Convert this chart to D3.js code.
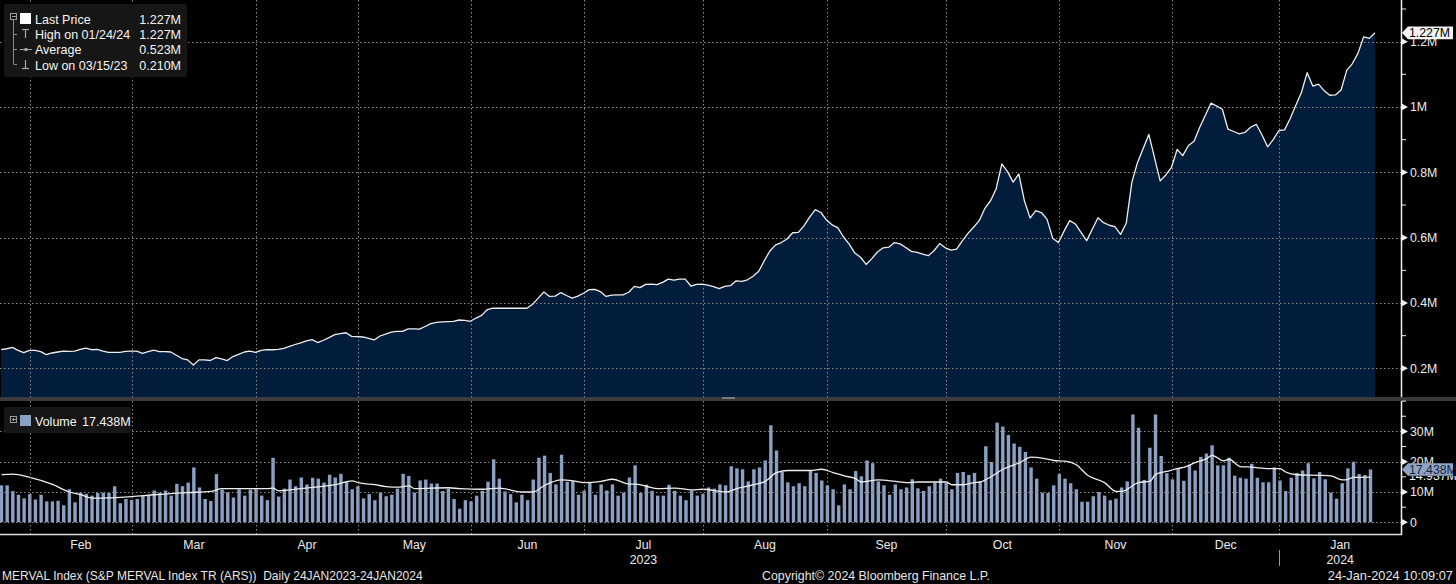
<!DOCTYPE html>
<html>
<head>
<meta charset="utf-8">
<script src="https://cdn.jsdelivr.net/npm/d3@7/dist/d3.min.js"></script>
<style>
  html, body { margin: 0; padding: 0; background: #000; }
  svg { display: block; }
  text { font-family: "Liberation Sans", Arial, sans-serif; }
</style>
</head>
<body>
<svg id="chart" width="1456" height="584"></svg>
<script>
// ---------------- DATA ----------------
// Daily closing level of the S&P MERVAL Index TR (ARS), in millions, 24 Jan 2023 - 24 Jan 2024 (trading days)
const price = [
  0.257,0.260,0.264,0.255,0.248,0.255,0.255,0.251,0.242,0.247,
  0.250,0.253,0.252,0.253,0.258,0.262,0.257,0.258,0.253,0.249,
  0.249,0.249,0.252,0.253,0.253,0.246,0.251,0.256,0.251,0.251,
  0.250,0.240,0.230,0.226,0.210,0.226,0.226,0.224,0.233,0.229,
  0.224,0.236,0.243,0.250,0.253,0.249,0.255,0.257,0.257,0.258,
  0.261,0.267,0.273,0.278,0.284,0.288,0.279,0.286,0.294,0.303,
  0.306,0.309,0.298,0.297,0.296,0.292,0.287,0.299,0.305,0.311,
  0.313,0.313,0.321,0.321,0.320,0.328,0.337,0.341,0.342,0.343,
  0.344,0.348,0.347,0.344,0.354,0.362,0.380,0.384,0.384,0.384,
  0.384,0.384,0.384,0.384,0.396,0.415,0.434,0.420,0.421,0.432,
  0.423,0.415,0.421,0.430,0.441,0.442,0.435,0.420,0.424,0.425,
  0.425,0.433,0.451,0.447,0.457,0.458,0.456,0.463,0.473,0.470,
  0.473,0.473,0.452,0.457,0.458,0.455,0.450,0.444,0.451,0.453,
  0.468,0.466,0.471,0.482,0.497,0.530,0.560,0.578,0.585,0.596,
  0.615,0.616,0.636,0.663,0.686,0.677,0.654,0.639,0.630,0.602,
  0.580,0.553,0.540,0.518,0.536,0.556,0.569,0.571,0.585,0.581,
  0.570,0.558,0.555,0.550,0.545,0.560,0.582,0.569,0.562,0.565,
  0.590,0.613,0.632,0.652,0.690,0.713,0.750,0.826,0.802,0.770,
  0.795,0.712,0.660,0.683,0.677,0.656,0.598,0.585,0.620,0.652,
  0.642,0.616,0.591,0.626,0.661,0.646,0.638,0.634,0.610,0.644,
  0.770,0.830,0.873,0.916,0.845,0.774,0.792,0.815,0.870,0.851,
  0.882,0.895,0.938,0.975,1.012,1.003,0.993,0.932,0.925,0.918,
  0.922,0.938,0.947,0.915,0.878,0.900,0.928,0.930,0.965,1.005,
  1.045,1.105,1.064,1.070,1.050,1.036,1.037,1.052,1.112,1.133,
  1.165,1.215,1.210,1.227
];

// Daily volume, millions
const volume = [
  12.2,12.2,10.3,9.1,7.9,9.3,7.5,9.1,6.9,6.9,
  7.1,5.6,10.9,6.6,9.8,9.4,8.8,9.7,9.8,9.7,
  11.9,6.3,7.7,7.4,7.7,8.8,8.8,10.5,9.8,10.5,
  8.8,12.7,11.9,13.1,18.1,11.5,7.7,7.0,15.9,10.8,
  9.9,8.2,10.9,8.8,10.8,11.0,8.8,7.3,21.3,8.5,
  11.1,14.1,11.9,14.8,12.5,14.7,14.4,13.1,15.7,14.8,
  16.0,13.4,10.9,11.9,7.9,9.3,7.3,9.8,8.6,9.1,
  11.1,16.0,15.3,9.8,13.8,14.1,12.8,12.8,10.3,11.1,
  7.7,4.5,7.3,6.9,8.8,10.4,13.4,20.8,14.4,10.2,
  9.3,6.6,9.1,7.3,14.1,21.3,22.0,16.3,12.5,22.3,
  13.4,13.7,9.1,10.4,13.3,9.1,12.5,10.5,12.5,8.8,
  9.8,14.8,18.8,9.7,12.4,10.4,8.8,8.8,12.4,10.4,
  8.8,7.3,10.5,8.8,9.3,11.5,11.1,12.5,12.2,18.5,
  17.8,17.5,13.5,17.5,18.1,20.4,32.0,23.7,16.6,13.2,
  11.9,12.9,11.9,17.0,16.3,13.8,12.2,10.9,5.6,12.5,
  10.9,16.9,15.2,20.4,19.5,13.5,12.2,9.1,12.5,10.9,
  11.5,14.2,11.2,10.4,11.9,13.2,14.4,13.1,10.9,16.3,
  16.6,15.6,16.3,13.4,25.1,19.9,32.9,31.6,28.8,26.0,
  24.9,23.2,18.1,14.4,9.8,9.7,12.2,15.9,14.4,12.9,
  10.9,6.8,6.8,8.6,10.0,8.8,7.3,7.8,11.5,13.5,
  35.6,31.2,14.0,24.6,35.6,21.9,16.2,14.2,17.9,13.7,
  19.0,17.1,21.6,22.7,25.4,18.8,18.8,21.3,15.4,14.7,
  14.4,19.3,14.7,13.2,13.2,18.1,13.8,10.3,14.7,16.3,
  17.1,19.5,14.5,16.6,14.2,9.8,7.8,12.9,17.8,20.0,
  15.9,15.6,17.438
];

// Volume moving average, read at selected bar positions (bar index, millions)
const maIdx = [0,2,5,9,12,14,16,23,27,33,37,39,47,48,49,53,55,59,62,63,66,68,70,72,73,79,81,85,88,92,94,96,99,101,103,106,108,111,112,114,116,119,122,124,128,130,133,135,137,139,143,145,147,149,151,152,155,158,160,162,167,168,170,172,173,175,177,180,182,184,186,188,190,192,195,197,198,201,203,204,206,208,209,211,213,214,216,217,219,221,224,226,227,229,233,235,237,238,239,242];
const maVal = [15.7,15.9,14.8,12.5,10.0,9.1,8.0,8.5,9.1,9.8,10.2,11.1,11.1,11.3,10.4,11.1,11.5,12.4,13.7,13.1,12.4,11.8,11.6,12.0,11.1,11.4,11.1,10.9,11.3,10.0,10.0,12.2,14.0,13.7,13.1,13.5,14.2,12.6,12.6,11.9,11.1,11.3,10.7,10.9,10.0,11.1,12.4,13.5,16.4,17.1,17.1,17.5,16.4,15.3,14.4,13.3,14.0,13.5,13.1,13.3,13.3,12.4,12.4,13.1,13.3,15.1,17.5,19.7,21.5,21.2,20.4,20.2,19.0,15.5,13.1,10.2,10.2,13.1,13.5,15.8,16.8,17.8,18.1,19.7,21.0,22.1,20.3,20.8,18.4,18.2,17.7,17.7,16.6,15.7,15.5,15.3,14.0,14.2,14.8,14.9];

// Calendar: month labels and index of each month's first trading day
const monthNames = ["Feb","Mar","Apr","May","Jun","Jul","Aug","Sep","Oct","Nov","Dec","Jan"];
const monthStart = [6,24,46,64,84,104,125,147,168,188,208,227];
const yearLabels = [{month:"Jul", text:"2023"}, {month:"Jan", text:"2024"}];

const priceTicks = [0.2,0.4,0.6,0.8,1.0,1.2];
const priceMinor = [0.3,0.5,0.7,0.9,1.1,1.3];
const volTicks = [0,10,20,30];
const volMinor = [5,15,25,35,40];

const legendRows = [
  {label:"Last Price", value:"1.227M"},
  {label:"High on 01/24/24", value:"1.227M"},
  {label:"Average", value:"0.523M"},
  {label:"Low on 03/15/23", value:"0.210M"}
];
const lastPrice = 1.227, lastVolume = 17.438, lastMA = 14.937;

// ---------------- LAYOUT ----------------
const svg = d3.select("#chart");
const AX = 1401;            // right axis x
const P_TOP = 0, P_BOT = 397;
const V_TOP = 401, V_BOT = 534;
const gridColor = "#8a8a8a";
const txt = "#ececec";
const fillNavy = "#021d3b";
const barColor = "#8ba1c4";
const FONT = "'Liberation Sans', Arial, sans-serif";

svg.append("rect").attr("width",1456).attr("height",584).attr("fill","#000");

const xP = d3.scaleLinear().domain([0, price.length-1]).range([1.1, 1375]);
const xV = d3.scaleLinear().domain([0, volume.length-1]).range([1.5, 1370.5]);
const yP = d3.scaleLinear().domain([0.1123, 1.3275]).range([P_BOT, P_TOP]);
const yV = d3.scaleLinear().domain([-3.86, 40.03]).range([V_BOT, V_TOP]);

const boundaryX = monthStart.map(s => xP(s - 0.9));

// clip paths
const defs = svg.append("defs");
defs.append("clipPath").attr("id","cp").append("rect").attr("x",0).attr("y",P_TOP).attr("width",AX).attr("height",P_BOT-P_TOP);
defs.append("clipPath").attr("id","cv").append("rect").attr("x",0).attr("y",V_TOP).attr("width",AX).attr("height",V_BOT-V_TOP);
defs.append("clipPath").attr("id","cma").append("rect").attr("x",1403).attr("y",476).attr("width",53).attr("height",10);

// ---------------- PRICE PANEL ----------------
const gP = svg.append("g").attr("clip-path","url(#cp)");
gP.append("path")
  .datum(price)
  .attr("fill", fillNavy)
  .attr("d", d3.area().x((d,i)=>xP(i)).y0(P_BOT).y1(d=>yP(d)));

gP.selectAll(".hg").data(priceTicks).join("line")
  .attr("x1",0).attr("x2",AX).attr("y1",d=>Math.round(yP(d))+0.5).attr("y2",d=>Math.round(yP(d))+0.5)
  .attr("stroke",gridColor).attr("stroke-width",1).attr("stroke-dasharray","1.5,2.5");
gP.selectAll(".vg").data(boundaryX).join("line")
  .attr("x1",d=>Math.round(d)+0.5).attr("x2",d=>Math.round(d)+0.5).attr("y1",P_TOP).attr("y2",P_BOT)
  .attr("stroke",gridColor).attr("stroke-width",1).attr("stroke-dasharray","1.5,2.5");

gP.append("path")
  .datum(price)
  .attr("fill","none").attr("stroke","#eeeeee").attr("stroke-width",1.3).attr("stroke-linejoin","round")
  .attr("d", d3.line().x((d,i)=>xP(i)).y(d=>yP(d)));

// ---------------- VOLUME PANEL ----------------
const gV = svg.append("g").attr("clip-path","url(#cv)");
gV.selectAll(".bar").data(volume).join("rect")
  .attr("x",(d,i)=>xV(i)-1.7).attr("width",3.4)
  .attr("y",d=>yV(d)).attr("height",d=>yV(0)-yV(d))
  .attr("fill",barColor);

gV.selectAll(".hgv").data(volTicks).join("line")
  .attr("x1",0).attr("x2",AX).attr("y1",d=>Math.round(yV(d))+0.5).attr("y2",d=>Math.round(yV(d))+0.5)
  .attr("stroke",gridColor).attr("stroke-width",1).attr("stroke-dasharray","1.5,2.5");

svg.selectAll(".vgv").data(boundaryX).join("line")
  .attr("x1",d=>Math.round(d)+0.5).attr("x2",d=>Math.round(d)+0.5).attr("y1",V_TOP).attr("y2",V_BOT+3)
  .attr("stroke",gridColor).attr("stroke-width",1).attr("stroke-dasharray","1.5,2.5");

const maData = maIdx.map((d,i)=>[d, maVal[i]]);
gV.append("path").datum(maData)
  .attr("fill","none").attr("stroke","#eeeeee").attr("stroke-width",1.3)
  .attr("d", d3.line().x(d=>xV(d[0])).y(d=>yV(d[1])).curve(d3.curveMonotoneX));

// separator band between panels
svg.append("rect").attr("x",0).attr("y",P_BOT).attr("width",1456).attr("height",V_TOP-P_BOT).attr("fill","#3b3b3b");
svg.append("rect").attr("x",722).attr("y",P_BOT).attr("width",13).attr("height",2).attr("fill","#7a7a7a");

// ---------------- AXES ----------------
svg.append("line").attr("x1",AX+0.5).attr("x2",AX+0.5).attr("y1",P_TOP).attr("y2",P_BOT).attr("stroke","#f0f0f0").attr("stroke-width",1.5);
svg.append("line").attr("x1",AX+0.5).attr("x2",AX+0.5).attr("y1",V_TOP).attr("y2",V_BOT+1).attr("stroke","#f0f0f0").attr("stroke-width",1.5);
svg.append("line").attr("x1",0).attr("x2",AX+1).attr("y1",V_BOT+0.5).attr("y2",V_BOT+0.5).attr("stroke","#e0e0e0").attr("stroke-width",1.5);

function fmtPrice(v){ return (Math.abs(v-1)<1e-9 ? "1" : d3.format(".1f")(v)) + "M"; }
function fmtVol(v){ return v===0 ? "0" : v + "M"; }

const axP = svg.append("g").attr("transform",`translate(${AX},0)`)
  .call(d3.axisRight(yP).tickValues(priceTicks).tickSize(0).tickPadding(9).tickFormat(fmtPrice));
axP.select(".domain").remove();
axP.selectAll("text").attr("fill",txt).style("font-size","12.3px").style("font-family",FONT);

const axV = svg.append("g").attr("transform",`translate(${AX},0)`)
  .call(d3.axisRight(yV).tickValues(volTicks).tickSize(0).tickPadding(9).tickFormat(fmtVol));
axV.select(".domain").remove();
axV.selectAll("text").attr("fill",txt).style("font-size","12.3px").style("font-family",FONT);

function tri(y){ return `M${AX+1},${y-3.2}L${AX+7},${y}L${AX+1},${y+3.2}Z`; }
svg.selectAll(".ptri").data(priceTicks).join("path").attr("d",d=>tri(yP(d))).attr("fill","#f0f0f0");
svg.selectAll(".vtri").data(volTicks).join("path").attr("d",d=>tri(yV(d))).attr("fill","#f0f0f0");
svg.selectAll(".pmin").data(priceMinor).join("line")
  .attr("x1",AX+1).attr("x2",AX+5).attr("y1",d=>yP(d)).attr("y2",d=>yP(d)).attr("stroke","#f0f0f0").attr("stroke-width",1);
svg.selectAll(".vmin").data(volMinor).join("line")
  .attr("x1",AX+1).attr("x2",AX+5).attr("y1",d=>yV(d)).attr("y2",d=>yV(d)).attr("stroke","#f0f0f0").attr("stroke-width",1);

// month labels
const nextB = boundaryX.slice(1).concat([AX]);
svg.selectAll(".mlab").data(monthNames).join("text")
  .attr("x",(d,i)=>(boundaryX[i]+nextB[i])/2).attr("y",549)
  .attr("text-anchor","middle").attr("fill",txt).style("font-size","12.3px").text(d=>d);
svg.selectAll(".ylab").data(yearLabels).join("text")
  .attr("x",d=>{const i=monthNames.indexOf(d.month); return (boundaryX[i]+nextB[i])/2;}).attr("y",564)
  .attr("text-anchor","middle").attr("fill",txt).style("font-size","12.3px").text(d=>d.text);
svg.append("line").attr("x1",Math.round(boundaryX[11])+0.5).attr("x2",Math.round(boundaryX[11])+0.5)
  .attr("y1",550).attr("y2",566).attr("stroke","#9a9a9a").attr("stroke-width",1);

// ---------------- LAST VALUE TAGS ----------------
function tagPath(y){ return `M${AX+1},${y}L${AX+7},${y-6.3}L1453,${y-6.3}L1453,${y+6.3}L${AX+7},${y+6.3}Z`; }
// MA value label: only its lower edge shows beneath the volume tag
svg.append("text").attr("x",1409).attr("y",yV(lastMA)+3).attr("fill","#f5f5f5")
  .attr("clip-path","url(#cma)")
  .style("font-size","12.3px").text(d3.format(".3f")(lastMA)+"M");
svg.append("path").attr("d",tagPath(yP(lastPrice))).attr("fill","#f4f4f4");
svg.append("text").attr("x",1409).attr("y",yP(lastPrice)+4.3).attr("fill","#000")
  .style("font-size","12.3px").text(d3.format(".3f")(lastPrice)+"M");
svg.append("path").attr("d",tagPath(yV(lastVolume))).attr("fill","#8fa3c5");
svg.append("text").attr("x",1409).attr("y",yV(lastVolume)+4.3).attr("fill","#16233a")
  .style("font-size","12.3px").text(d3.format(".3f")(lastVolume)+"M");

// ---------------- LEGENDS ----------------
const lg = svg.append("g");
lg.append("rect").attr("x",4).attr("y",4).attr("width",183).attr("height",73).attr("rx",3).attr("fill","#161616");
lg.append("rect").attr("x",10.5).attr("y",13.5).attr("width",6).attr("height",6).attr("fill","none").attr("stroke","#9a9a9a");
lg.append("line").attr("x1",12).attr("x2",16).attr("y1",16.5).attr("y2",16.5).attr("stroke","#9a9a9a");
lg.append("line").attr("x1",13.5).attr("x2",13.5).attr("y1",20).attr("y2",64).attr("stroke","#8a8a8a");
[34,49,64].forEach(y=>lg.append("line").attr("x1",13.5).attr("x2",17).attr("y1",y+0.5).attr("y2",y+0.5).attr("stroke","#8a8a8a"));
lg.append("rect").attr("x",20).attr("y",13).attr("width",11).attr("height",11).attr("fill","#ffffff");
lg.append("line").attr("x1",22).attr("x2",29).attr("y1",29.5).attr("y2",29.5).attr("stroke","#a8a8a8").attr("stroke-width",1.2);
lg.append("line").attr("x1",25.5).attr("x2",25.5).attr("y1",29.5).attr("y2",38).attr("stroke","#a8a8a8").attr("stroke-width",1.2);
lg.append("line").attr("x1",20).attr("x2",32).attr("y1",49.5).attr("y2",49.5).attr("stroke","#a8a8a8").attr("stroke-width",1);
lg.append("circle").attr("cx",26).attr("cy",49.5).attr("r",1.8).attr("fill","#a8a8a8");
lg.append("line").attr("x1",25.5).attr("x2",25.5).attr("y1",60).attr("y2",68.5).attr("stroke","#a8a8a8").attr("stroke-width",1.2);
lg.append("line").attr("x1",22).attr("x2",29).attr("y1",68.5).attr("y2",68.5).attr("stroke","#a8a8a8").attr("stroke-width",1.2);

const rowY = [23.5,38.5,54,69.5];
lg.selectAll(".ll").data(legendRows).join("text")
  .attr("x",35).attr("y",(d,i)=>rowY[i]).attr("fill","#f4f4f4").style("font-size","12.5px").text(d=>d.label);
lg.selectAll(".lv").data(legendRows).join("text")
  .attr("x",181).attr("y",(d,i)=>rowY[i]).attr("text-anchor","end").attr("fill","#f4f4f4").style("font-size","12.5px").text(d=>d.value);

// volume legend
const vl = svg.append("g");
vl.append("rect").attr("x",4).attr("y",407).attr("width",127).attr("height",26).attr("rx",3).attr("fill","#161616");
vl.append("rect").attr("x",10.5).attr("y",416.5).attr("width",6).attr("height",6).attr("fill","none").attr("stroke","#9a9a9a");
vl.append("line").attr("x1",12).attr("x2",16).attr("y1",419.5).attr("y2",419.5).attr("stroke","#9a9a9a");
vl.append("line").attr("x1",13.5).attr("x2",13.5).attr("y1",418).attr("y2",421).attr("stroke","#9a9a9a");
vl.append("rect").attr("x",20).attr("y",415).attr("width",11).attr("height",11).attr("fill",barColor);
vl.append("text").attr("x",35).attr("y",425.5).attr("fill","#f4f4f4").style("font-size","12.5px").text("Volume");
vl.append("text").attr("x",82).attr("y",425.5).attr("fill","#f4f4f4").style("font-size","12.5px")
  .text(d3.format(".3f")(lastVolume) + "M");

// ---------------- FOOTER ----------------
svg.append("text").attr("x",2).attr("y",580).attr("fill","#e6e6e6").style("font-size","12px")
  .attr("xml:space","preserve").text("MERVAL Index (S&P MERVAL Index TR (ARS))  Daily 24JAN2023-24JAN2024");
svg.append("text").attr("x",762).attr("y",580).attr("fill","#e6e6e6").style("font-size","12.4px")
  .text("Copyright\u00A9 2024 Bloomberg Finance L.P.");
svg.append("text").attr("x",1453).attr("y",580).attr("text-anchor","end").attr("fill","#e6e6e6").style("font-size","12.8px")
  .text("24-Jan-2024 10:09:07");
</script>
</body>
</html>
